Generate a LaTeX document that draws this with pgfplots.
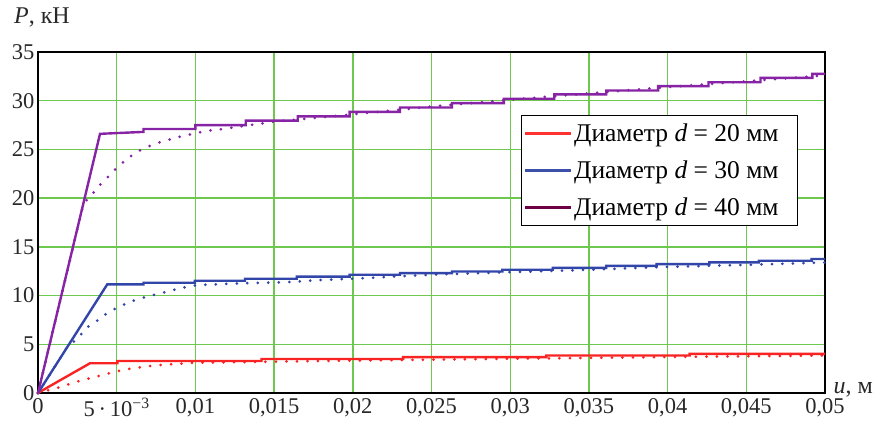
\documentclass[border=0pt]{standalone}
\usepackage{fontspec}
\setmainfont{Liberation Serif}
\usepackage{pgfplots}
\pgfplotsset{compat=1.18}
\definecolor{gridgreen}{RGB}{110,200,80}
\definecolor{cred}{RGB}{250,35,35}
\definecolor{cblue}{RGB}{50,70,170}
\definecolor{cpurple}{RGB}{135,35,165}
\definecolor{cmaroon}{RGB}{110,0,70}
\definecolor{tickc}{RGB}{40,40,40}
\begin{document}
\begin{tikzpicture}
\path[use as bounding box] (-38bp,-46bp) rectangle (837bp,393bp);
\begin{axis}[
  scale only axis,
  width=787bp, height=341bp,
  xmin=0, xmax=0.05, ymin=0, ymax=35,
  xtick={0,0.005,0.01,0.015,0.02,0.025,0.03,0.035,0.04,0.045,0.05},
  xticklabels={0,{5\,·\,10\textsuperscript{−3}},{0,01},{0,015},{0,02},{0,025},{0,03},{0,035},{0,04},{0,045},{0,05}},
  ytick={0,5,10,15,20,25,30,35},
  yticklabels={0,5,10,15,20,25,30,35},
  scaled x ticks=false,
  major tick length=0pt,
  grid=major,
  major grid style={gridgreen, line width=1.4bp},
  axis line style={black, line width=1.5bp},
  tick label style={font=\fontsize{22.5bp}{26bp}\selectfont, text=tickc},
  xticklabel style={yshift=-2bp},
  yticklabel style={xshift=0bp},
  clip=false,
  legend cell align=left,
  legend style={at={(0.6137,0.8152)}, anchor=north west, draw=black, line width=1.3bp,
    fill=white, font=\fontsize{25.5bp}{28bp}\selectfont, inner xsep=2bp, inner ysep=6bp,
    row sep=14bp},
  legend image code/.code={\draw[#1, line width=2.5bp] (0bp,0bp) -- (46bp,0bp);},
]
% dotted series
\addplot[cred, line width=3bp, line cap=round, dash pattern=on 0pt off 10.5bp, forget plot] coordinates {
(0,0) (0.00087,0.38) (0.0015,0.65) (0.00214,1.0) (0.00284,1.33) (0.00351,1.6) (0.0042,1.88) (0.0049,2.19) (0.0056,2.43) (0.0063,2.6) (0.007,2.75) (0.0077,2.86) (0.0083,2.94) (0.009,3.0) (0.0097,3.1) (0.012,3.15) (0.015,3.22) (0.02,3.33) (0.025,3.42) (0.03,3.52) (0.035,3.6) (0.04,3.7) (0.045,3.77) (0.05,3.85)};
\addplot[cblue, line width=3bp, line cap=round, dash pattern=on 0pt off 10.5bp, forget plot] coordinates {
(0,0) (0.0018,4.56) (0.00256,5.7) (0.00313,6.74) (0.00383,7.5) (0.00447,8.3) (0.00517,8.86) (0.00585,9.37) (0.0066,9.75) (0.0073,10.05) (0.0082,10.4) (0.009,10.75) (0.0101,11.08) (0.0128,11.25) (0.0141,11.3) (0.0161,11.4) (0.018,11.6) (0.0205,11.77) (0.025,12.15) (0.03,12.4) (0.035,12.65) (0.04,12.95) (0.045,13.15) (0.05,13.4)};
\addplot[cpurple, line width=3bp, line cap=round, dash pattern=on 0pt off 10.5bp, forget plot] coordinates {
(0,0) (0.0029,19.5) (0.0033,20.1) (0.00383,21.2) (0.0044,22.1) (0.00506,23.2) (0.00578,24.2) (0.00648,24.9) (0.00716,25.4) (0.00786,25.8) (0.00856,26.1) (0.00923,26.4) (0.0099,26.6) (0.0106,26.9) (0.0113,27.0) (0.015,27.85) (0.02,28.6) (0.025,29.4) (0.03,30.1) (0.035,30.75) (0.04,31.4) (0.045,32.0) (0.05,32.6)};
% solid series
\addplot[cred, line width=2.4bp, forget plot] coordinates {
(0,0) (0.0008,0.75) (0.0033,3.05) (0.00504,3.05) (0.00504,3.28) (0.0142,3.28) (0.0142,3.49) (0.0232,3.49) (0.0232,3.68) (0.0323,3.68) (0.0323,3.85) (0.0414,3.85) (0.0414,4.02) (0.05,4.02)};
\addplot[cblue, line width=2.4bp, forget plot] coordinates {
(0,0) (0.0044,11.15) (0.0067,11.15) (0.0067,11.32) (0.00997,11.32) (0.00997,11.52) (0.01315,11.52) (0.01315,11.73) (0.01644,11.73) (0.01644,11.94) (0.0198,11.94) (0.0198,12.14) (0.0230,12.14) (0.0230,12.3) (0.0263,12.3) (0.0263,12.47) (0.0295,12.47) (0.0295,12.65) (0.0327,12.65) (0.0327,12.85) (0.0361,12.85) (0.0361,13.05) (0.0393,13.05) (0.0393,13.23) (0.04265,13.23) (0.04265,13.4) (0.0458,13.4) (0.0458,13.57) (0.04915,13.57) (0.04915,13.75) (0.05,13.75)};
\addplot[cpurple, line width=2.4bp, forget plot] coordinates {
(0,0) (0.00394,26.6) (0.0067,26.8) (0.0067,27.1) (0.01,27.1) (0.01,27.5) (0.0132,27.5) (0.0132,27.95) (0.0165,27.95) (0.0165,28.4) (0.0198,28.4) (0.0198,28.85) (0.023,28.85) (0.023,29.3) (0.0263,29.3) (0.0263,29.75) (0.0296,29.75) (0.0296,30.2) (0.0328,30.2) (0.0328,30.65) (0.0361,30.65) (0.0361,31.05) (0.0394,31.05) (0.0394,31.5) (0.0426,31.5) (0.0426,31.9) (0.0459,31.9) (0.0459,32.35) (0.0492,32.35) (0.0492,32.75) (0.05,32.75)};
\addlegendimage{color={rgb,255:red,255;green,50;blue,50}}
\addlegendentry{Диаметр \textit{d} = 20 мм\hspace*{15bp}}
\addlegendimage{color={rgb,255:red,60;green,80;blue,170}}
\addlegendentry{Диаметр \textit{d} = 30 мм\hspace*{15bp}}
\addlegendimage{cmaroon}
\addlegendentry{Диаметр \textit{d} = 40 мм\hspace*{15bp}}
\node[font=\fontsize{24bp}{27bp}\selectfont, text=tickc, anchor=center] at ([xshift=4bp,yshift=35bp]rel axis cs:0,1) {\textit{P}, кН};
\node[font=\fontsize{24bp}{27bp}\selectfont, text=tickc, anchor=base west] at ([xshift=5bp]rel axis cs:1,0) {\textit{u}, м};
\end{axis}
\end{tikzpicture}
\end{document}
